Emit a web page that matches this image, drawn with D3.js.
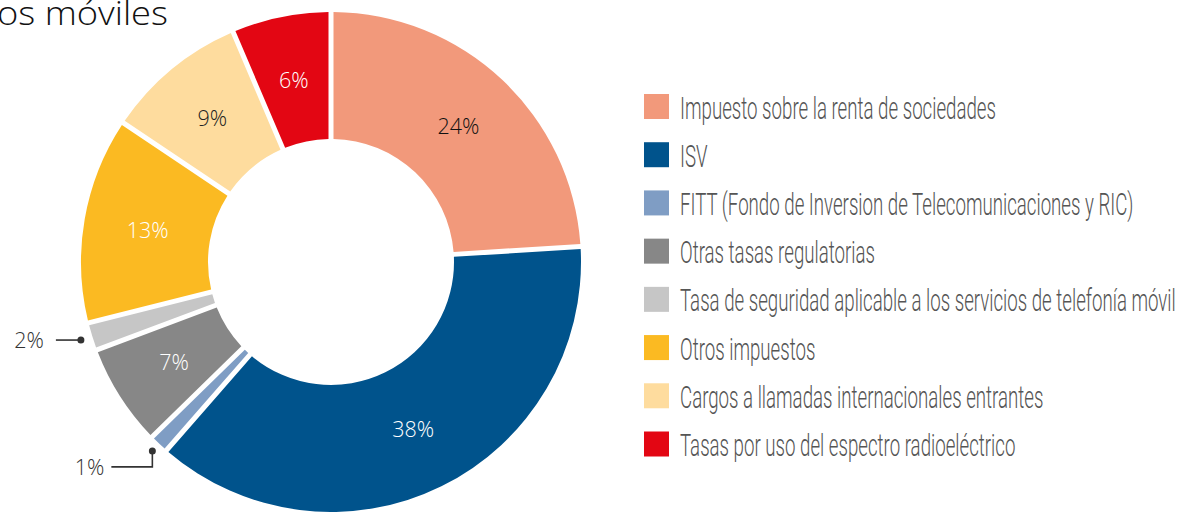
<!DOCTYPE html>
<html>
<head>
<meta charset="utf-8">
<script src="https://cdn.jsdelivr.net/npm/d3@7"></script>
<style>
  body { margin: 0; background: #fff; }
  svg { display: block; }
</style>
</head>
<body>
<div id="chart"></div>
<script>
const categories = [
  "Impuesto sobre la renta de sociedades",
  "ISV",
  "FITT (Fondo de Inversion de Telecomunicaciones y RIC)",
  "Otras tasas regulatorias",
  "Tasa de seguridad aplicable a los servicios de telefonía móvil",
  "Otros impuestos",
  "Cargos a llamadas internacionales entrantes",
  "Tasas por uso del espectro radioeléctrico"
];
// slice shares as measured from the drawing, and the printed percentages
const values = [24, 37.4, 1.25, 6.6, 1.8, 13.3, 9.2, 6.4];
const pctLabels = ["24%", "38%", "1%", "7%", "2%", "13%", "9%", "6%"];
const colors = ["#F2997B", "#00538C", "#7F9DC4", "#878787", "#C6C6C6", "#FBBA22", "#FEDC9E", "#E30613"];
const labelColors = ["#111", "#fff", "#fff", "#fff", "#333", "#fff", "#222", "#fff"];
const titleText = "os móviles";

const width = 1195, height = 512;
const cx = 331, cy = 262, outerR = 250, innerR = 123;
const pctFont = "'Open Sans', Lato, sans-serif";

const svg = d3.select("#chart").append("svg")
  .attr("width", width)
  .attr("height", height);

// title fragment (cut by the frame, as in the source)
svg.append("text")
  .attr("x", -3)
  .attr("y", 25)
  .attr("font-family", pctFont)
  .attr("font-weight", 300)
  .attr("font-size", 33)
  .attr("textLength", 171)
  .attr("lengthAdjust", "spacingAndGlyphs")
  .attr("fill", "#111")
  .text(titleText);

const data = categories.map((c, i) => ({
  name: c, value: values[i], pct: pctLabels[i], color: colors[i], label: labelColors[i]
}));

const pie = d3.pie()
  .value(d => d.value)
  .sort(null);

const arc = d3.arc()
  .innerRadius(innerR)
  .outerRadius(outerR)
  .padAngle(0.05)
  .padRadius(100);

const labelArc = d3.arc()
  .innerRadius(186)
  .outerRadius(186);

const plot = svg.append("g")
  .attr("transform", `translate(${cx},${cy})`);

const arcs = pie(data);

plot.selectAll("path")
  .data(arcs)
  .enter()
  .append("path")
  .attr("d", arc)
  .attr("fill", d => d.data.color);

// inside labels for the bigger slices
plot.selectAll("text.pct")
  .data(arcs.filter(d => d.data.value >= 5))
  .enter()
  .append("text")
  .attr("class", "pct")
  .attr("transform", d => `translate(${labelArc.centroid(d)})`)
  .attr("text-anchor", "middle")
  .attr("dy", "0.36em")
  .attr("font-family", pctFont)
  .attr("font-weight", 300)
  .attr("font-size", 21.5)
  .attr("fill", d => d.data.label)
  .text(d => d.data.pct);

// callouts for the small slices
const small = arcs.filter(d => d.data.value < 5);
small.forEach(d => {
  const mid = (d.startAngle + d.endAngle) / 2;
  const r = d.data.value < 1.5 ? 260 : 262;
  const px = r * Math.sin(mid), py = -r * Math.cos(mid);
  const g = plot.append("g").attr("class", "callout");
  let pts, tx, ty;
  if (d.data.value < 1.5) {
    pts = [[px, py], [px, py + 16], [px - 41, py + 16]];
    tx = px - 48; ty = py + 16;
  } else {
    pts = [[px, py], [px - 25, py]];
    tx = px - 37; ty = py;
  }
  g.append("path")
    .attr("d", d3.line()(pts))
    .attr("fill", "none")
    .attr("stroke", "#333")
    .attr("stroke-width", 1.6);
  g.append("circle")
    .attr("cx", px)
    .attr("cy", py)
    .attr("r", 3.5)
    .attr("fill", "#333");
  g.append("text")
    .attr("x", tx)
    .attr("y", ty)
    .attr("dy", "0.36em")
    .attr("text-anchor", "end")
    .attr("font-family", pctFont)
    .attr("font-weight", 300)
    .attr("font-size", 21.5)
    .attr("fill", "#333")
    .text(d.data.pct);
});

// legend
const legendY = d3.scalePoint()
  .domain(categories)
  .range([106.5, 444]);

const legend = svg.append("g").attr("class", "legend");
const rows = legend.selectAll("g")
  .data(data)
  .enter()
  .append("g")
  .attr("transform", d => `translate(644,${legendY(d.name)})`);

rows.append("rect")
  .attr("x", 0)
  .attr("y", -12.5)
  .attr("width", 25)
  .attr("height", 25)
  .attr("fill", d => d.color);

const texts = rows.append("text")
  .attr("x", 0)
  .attr("y", 12)
  .attr("font-family", "Roboto, 'Liberation Sans Narrow', sans-serif")
  .attr("font-weight", 300)
  .attr("font-size", 32)
  .attr("fill", "#555")
  .text(d => d.name);

// condensed look: squeeze every label by one common factor
const longest = d3.max(texts.nodes(), n => n.getComputedTextLength());
const squeeze = 496 / longest;
texts.attr("transform", `translate(36,0) scale(${squeeze},1)`);
</script>
</body>
</html>
